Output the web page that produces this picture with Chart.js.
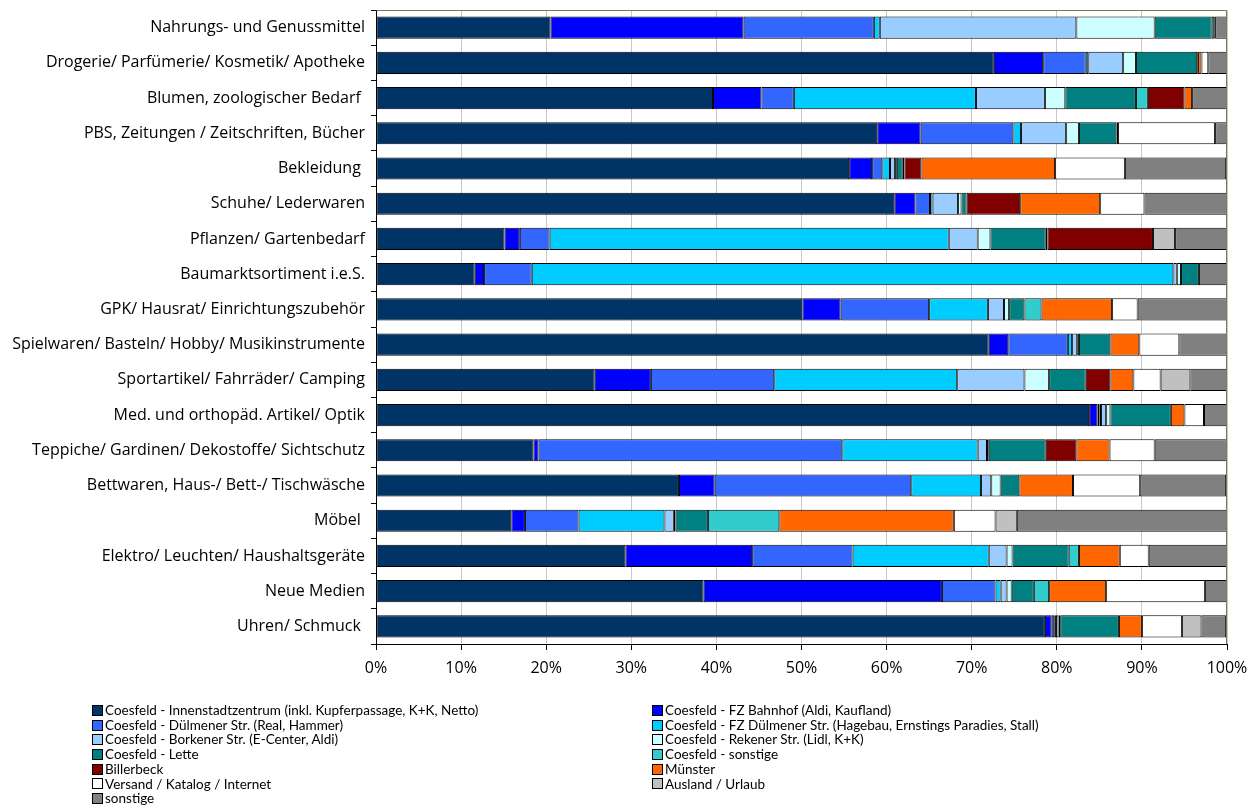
<!DOCTYPE html>
<html>
<head>
<meta charset="utf-8">
<script src="https://cdn.jsdelivr.net/npm/chart.js@4.4.0/dist/chart.umd.min.js"></script>
<style>
  html, body { margin: 0; padding: 0; background: #fff; }
  #wrap { position: relative; width: 1253px; height: 808px; }
  #c { position: absolute; left: 0; top: 0; }
  #legend { position: absolute; left: 92px; top: 703px; display: grid; grid-template-columns: 560px 560px;
            font-family: Lato, "Open Sans", sans-serif; font-size: 13.5px; line-height: 14.7px; color: #000; }
  .li { display: flex; align-items: center; white-space: nowrap; }
  .bx { width: 9px; height: 9px; border: 1px solid #000; margin-right: 2px; box-sizing: content-box; }
</style>
</head>
<body>
<div id="wrap">
  <canvas id="c" width="1253" height="808"></canvas>
  <div id="legend"></div>
</div>
<script>
const categories = [
  "Nahrungs- und Genussmittel",
  "Drogerie/ Parfümerie/ Kosmetik/ Apotheke",
  "Blumen, zoologischer Bedarf ",
  "PBS, Zeitungen / Zeitschriften, Bücher",
  "Bekleidung ",
  "Schuhe/ Lederwaren",
  "Pflanzen/ Gartenbedarf",
  "Baumarktsortiment i.e.S.",
  "GPK/ Hausrat/ Einrichtungszubehör",
  "Spielwaren/ Basteln/ Hobby/ Musikinstrumente",
  "Sportartikel/ Fahrräder/ Camping",
  "Med. und orthopäd. Artikel/ Optik",
  "Teppiche/ Gardinen/ Dekostoffe/ Sichtschutz",
  "Bettwaren, Haus-/ Bett-/ Tischwäsche",
  "Möbel ",
  "Elektro/ Leuchten/ Haushaltsgeräte",
  "Neue Medien",
  "Uhren/ Schmuck "
];

const seriesNames = [
  "Coesfeld - Innenstadtzentrum (inkl. Kupferpassage, K+K, Netto)",
  "Coesfeld - FZ Bahnhof (Aldi, Kaufland)",
  "Coesfeld - Dülmener Str. (Real, Hammer)",
  "Coesfeld - FZ Dülmener Str. (Hagebau, Ernstings Paradies, Stall)",
  "Coesfeld - Borkener Str. (E-Center, Aldi)",
  "Coesfeld - Rekener Str. (Lidl, K+K)",
  "Coesfeld - Lette",
  "Coesfeld - sonstige",
  "Billerbeck",
  "Münster",
  "Versand / Katalog / Internet",
  "Ausland / Urlaub",
  "sonstige"
];

const innenstadt       = [20.5, 72.6, 39.6, 58.9, 55.6, 60.9, 15.1, 11.6, 50.1, 72.0, 25.7, 83.8, 18.5, 35.6, 15.9, 29.3, 38.5, 78.6];
const fzBahnhof        = [22.7,  5.8,  5.7,  5.1,  2.7,  2.5,  1.8,  1.1,  4.5,  2.3,  6.6,  1.0,  0.6,  4.2,  1.6, 14.9, 28.0,  0.8];
const duelmenerStr     = [15.3,  5.0,  3.8, 10.9,  1.2,  1.7,  3.5,  5.6, 10.4,  7.0, 14.5,  0.2, 35.7, 23.1,  6.3, 11.8,  6.3,  0.3];
const fzDuelmenerStr   = [ 0.7,  0.3, 21.4,  0.9,  0.9,  0.3, 46.9, 75.4,  6.9,  0.5, 21.5,  0.2, 15.9,  8.2, 10.1, 16.0,  0.6,  0.2];
const borkenerStr      = [23.1,  4.1,  8.1,  5.3,  0.6,  3.0,  3.4,  0.4,  1.9,  0.6,  7.9,  0.6,  1.1,  1.2,  1.1,  2.1,  0.7,  0.3];
const rekenerStr       = [ 9.2,  1.5,  2.4,  1.5,  0.2,  0.4,  1.5,  0.5,  0.6,  0.2,  2.9,  0.5,  0.2,  1.1,  0.2,  0.7,  0.6,  0.2];
const lette            = [ 6.7,  7.2,  8.3,  4.4,  0.7,  0.6,  6.5,  2.1,  1.8,  3.7,  4.3,  7.1,  6.7,  2.2,  3.8,  6.6,  2.6,  6.9];
const coesfeldSonstige = [ 0.3,  0.0,  1.4,  0.2,  0.2,  0.0,  0.2,  0.0,  2.0,  0.0,  0.0,  0.0,  0.0,  0.0,  8.4,  1.2,  1.8,  0.0];
const billerbeck       = [ 0.0,  0.1,  4.3,  0.0,  2.0,  6.3, 12.4,  0.0,  0.0,  0.0,  2.9,  0.0,  3.6,  0.0,  0.0,  0.0,  0.0,  0.0];
const muenster         = [ 0.1,  0.4,  0.9,  0.0, 15.7,  9.4,  0.0,  0.0,  8.3,  3.4,  2.7,  1.6,  3.9,  6.3, 20.5,  4.8,  6.7,  2.7];
const versand          = [ 0.0,  0.8,  0.0, 11.4,  8.2,  5.2,  0.0,  0.0,  3.0,  4.7,  3.2,  2.3,  5.3,  7.9,  4.9,  3.4, 11.6,  4.7];
const auslandUrlaub    = [ 0.0,  0.0,  0.0,  0.0,  0.0,  0.0,  2.6,  0.0,  0.0,  0.0,  3.5,  0.0,  0.0,  0.0,  2.5,  0.0,  0.0,  2.3];
const sonstige         = [ 1.4,  2.2,  4.1,  1.4, 11.9,  9.7,  6.1,  3.3, 10.5,  5.6,  4.3,  2.7,  8.5, 10.1, 24.7,  9.2,  2.6,  2.9];

const xTickValues = [0, 10, 20, 30, 40, 50, 60, 70, 80, 90, 100];

const seriesValues = [innenstadt, fzBahnhof, duelmenerStr, fzDuelmenerStr, borkenerStr, rekenerStr,
  lette, coesfeldSonstige, billerbeck, muenster, versand, auslandUrlaub, sonstige];
const seriesColors = ["#003366", "#0000FF", "#3366FF", "#00CCFF", "#99CCFF", "#CCFFFF",
  "#008080", "#33CCCC", "#800000", "#FF6600", "#FFFFFF", "#C0C0C0", "#808080"];

const AXFONT = "'Open Sans', Lato, sans-serif";

const datasets = seriesNames.map((name, i) => ({
  label: name,
  data: seriesValues[i],
  backgroundColor: seriesColors[i],
  borderColor: "#000000",
  borderWidth: 1,
  borderSkipped: false,
  categoryPercentage: 1.0,
  barPercentage: 0.63
}));

const frame = {
  id: "frame",
  afterDraw(chart) {
    const a = chart.chartArea, ctx = chart.ctx;
    ctx.save();
    ctx.strokeStyle = "#7a7a48";
    ctx.lineWidth = 1;
    ctx.beginPath();
    ctx.moveTo(Math.round(a.left) + 0.5, Math.round(a.top) + 0.5);
    ctx.lineTo(Math.round(a.right) - 0.5, Math.round(a.top) + 0.5);
    ctx.lineTo(Math.round(a.right) - 0.5, Math.round(a.bottom));
    ctx.stroke();
    ctx.restore();
  }
};

new Chart(document.getElementById("c"), {
  type: "bar",
  data: { labels: categories, datasets },
  plugins: [frame],
  options: {
    indexAxis: "y",
    responsive: false,
    animation: false,
    events: [],
    layout: { padding: { top: 10, right: 26, bottom: 118, left: 0 } },
    plugins: { legend: { display: false }, tooltip: { enabled: false } },
    scales: {
      x: {
        stacked: true,
        min: 0, max: 100,
        afterBuildTicks(scale) { scale.ticks = xTickValues.map(v => ({ value: v })); },
        afterFit(scale) { scale.height = 46; scale.paddingLeft = 0; scale.paddingRight = 0; },
        ticks: { callback: v => v + "%", color: "#000", font: { family: AXFONT, size: 16 }, padding: 9, maxRotation: 0 },
        grid: { color: "#c8c8c8", lineWidth: 1, tickColor: "#000", tickLength: 6 },
        border: { color: "#000", width: 1 }
      },
      y: {
        stacked: true,
        afterFit(scale) { scale.width = 376; scale.paddingTop = 0; scale.paddingBottom = 0; },
        ticks: { color: "#000", font: { family: AXFONT, size: 16 }, padding: 6, autoSkip: false },
        grid: { drawOnChartArea: false, color: "#000", tickLength: 5, offset: true },
        border: { color: "#000", width: 1 }
      }
    }
  }
});

const lg = document.getElementById("legend");
seriesNames.forEach((name, i) => {
  const d = document.createElement("div");
  d.className = "li";
  const b = document.createElement("span");
  b.className = "bx";
  b.style.background = seriesColors[i];
  const t = document.createElement("span");
  t.textContent = name;
  d.appendChild(b); d.appendChild(t);
  lg.appendChild(d);
});
</script>
</body>
</html>
